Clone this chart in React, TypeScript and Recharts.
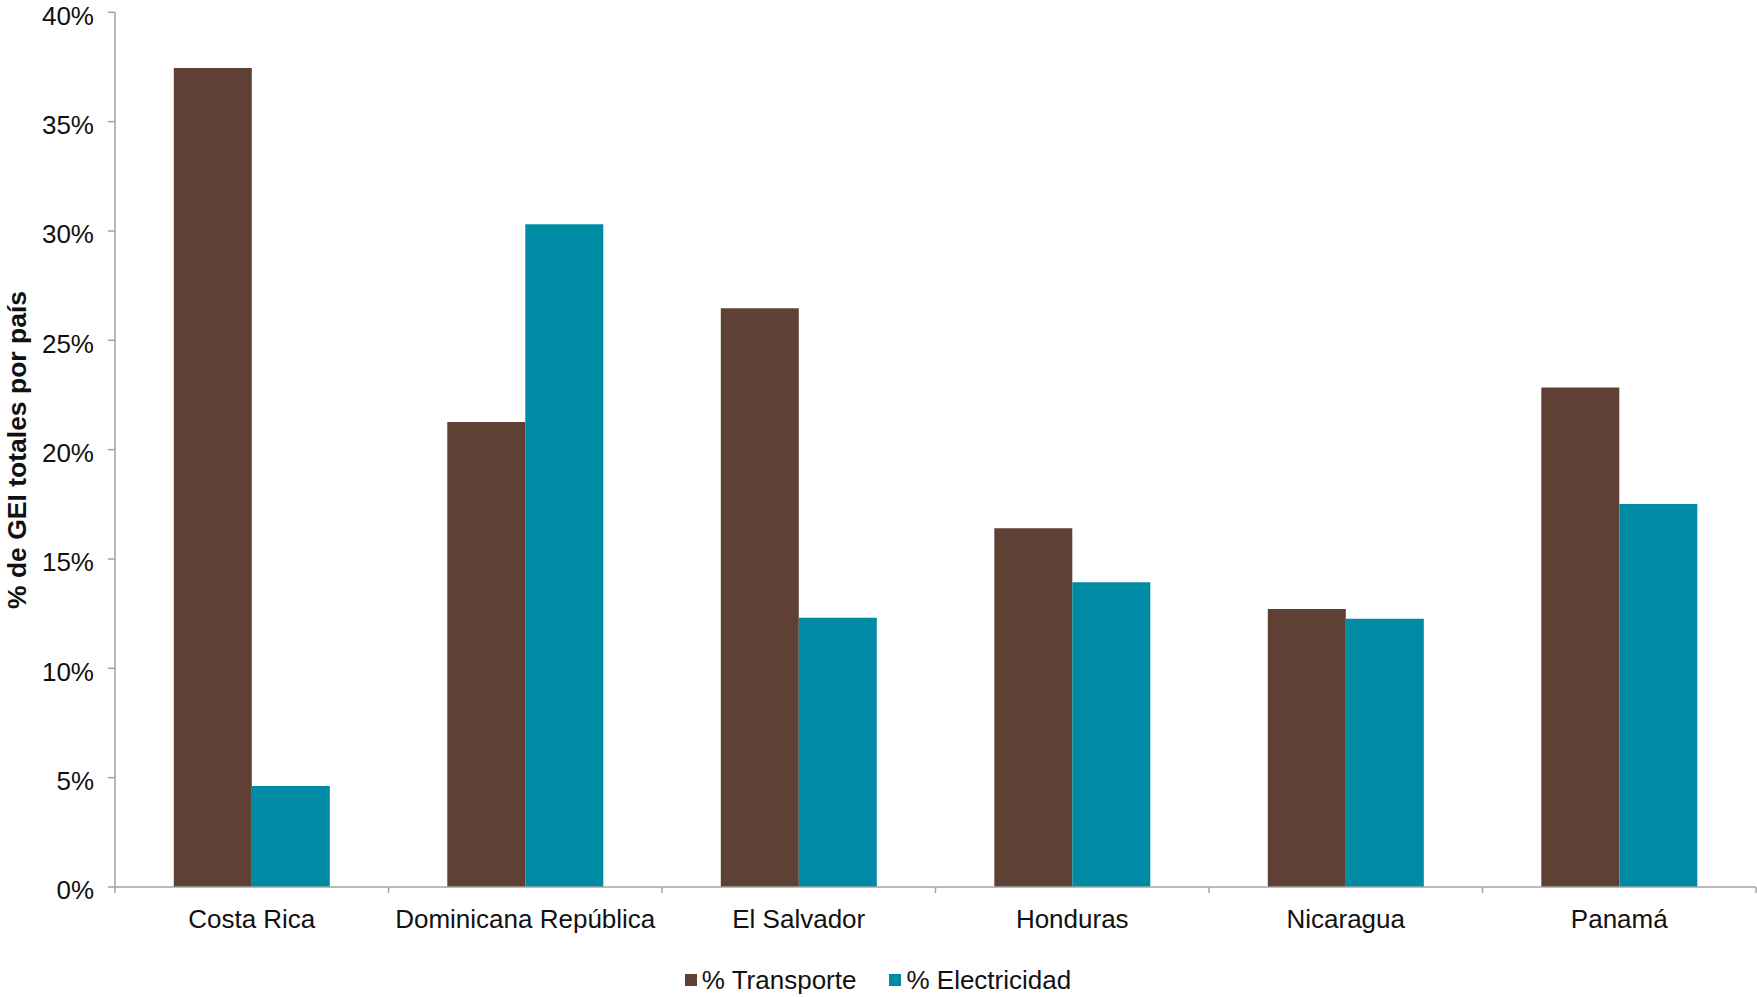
import React from 'react';
import { BarChart, Bar, XAxis, YAxis, Legend } from 'recharts';

const countries = ['Costa Rica', 'Dominicana República', 'El Salvador', 'Honduras', 'Nicaragua', 'Panamá'];
const transporte = [37.45, 21.26, 26.47, 16.41, 12.71, 22.84];
const electricidad = [4.62, 30.31, 12.31, 13.94, 12.27, 17.52];
const yTicks = [0, 5, 10, 15, 20, 25, 30, 35, 40];

const FONT = '"Liberation Sans", Arial, Helvetica, sans-serif';
const AXIS_COLOR = '#a3a3a3';
const BROWN = '#5f4034';
const TEAL = '#008ba5';
const X_TICK_SIZE = 6;
const X_TICK_MARGIN = 17;

const data = countries.map((pais, i) => ({
  pais,
  transporte: transporte[i],
  electricidad: electricidad[i],
}));

// Category labels sit at the band centre, tick marks at the band edges
function CategoryTick(props: any) {
  const { x, y, payload, index } = props;
  const half = payload?.offset ?? 136.75;
  const axisY = y - X_TICK_SIZE - X_TICK_MARGIN;
  return (
    <g>
      <line x1={x - half} x2={x - half} y1={axisY} y2={axisY + X_TICK_SIZE} stroke={AXIS_COLOR} strokeWidth={1.5} />
      {index === countries.length - 1 && (
        <line x1={x + half} x2={x + half} y1={axisY} y2={axisY + X_TICK_SIZE} stroke={AXIS_COLOR} strokeWidth={1.5} />
      )}
      <text x={x} y={y} dy="0.71em" textAnchor="middle" fill="#111" fontSize={26} fontFamily={FONT}>
        {payload.value}
      </text>
    </g>
  );
}

function YTitle() {
  return (
    <text
      x={17}
      y={450}
      transform="rotate(-90 17 450)"
      textAnchor="middle"
      dominantBaseline="central"
      fontSize={26.5}
      fontWeight="bold"
      fontFamily={FONT}
      fill="#111"
    >
      % de GEI totales por país
    </text>
  );
}

const legendItems = [
  { label: '% Transporte', color: BROWN },
  { label: '% Electricidad', color: TEAL },
];

function LegendContent() {
  return (
    <div
      style={{
        display: 'flex',
        justifyContent: 'center',
        alignItems: 'center',
        height: 30,
        gap: 33,
        fontFamily: FONT,
        fontSize: 26,
        color: '#111',
      }}
    >
      {legendItems.map((item) => (
        <div key={item.label} style={{ display: 'flex', alignItems: 'center', gap: 5 }}>
          <span style={{ width: 12, height: 12, background: item.color, display: 'inline-block' }} />
          <span style={{ lineHeight: '30px' }}>{item.label}</span>
        </div>
      ))}
    </div>
  );
}

export default function App() {
  return (
    <div style={{ position: 'absolute', left: 0, top: 0, background: '#fff' }}>
      <BarChart
        width={1757}
        height={997}
        data={data}
        margin={{ top: 12.3, right: 1, left: 0, bottom: 2.5 }}
        barCategoryGap="21.5%"
        barGap={0}
      >
        <XAxis
          dataKey="pais"
          interval={0}
          height={77.5}
          tickSize={X_TICK_SIZE}
          tickMargin={X_TICK_MARGIN}
          tickLine={false}
          axisLine={{ stroke: AXIS_COLOR, strokeWidth: 1.5 }}
          tick={<CategoryTick />}
        />
        <YAxis
          width={115}
          domain={[0, 40]}
          ticks={yTicks}
          interval={0}
          tickFormatter={(v) => `${v}%`}
          tickSize={7}
          tickMargin={14}
          axisLine={{ stroke: AXIS_COLOR, strokeWidth: 1.5 }}
          tickLine={{ stroke: AXIS_COLOR, strokeWidth: 1.5 }}
          tick={{ fill: '#111', fontSize: 26, fontFamily: FONT, dy: 3 }}
          label={<YTitle />}
        />
        <Legend verticalAlign="bottom" align="center" content={<LegendContent />} />
        <Bar dataKey="transporte" name="% Transporte" fill={BROWN} isAnimationActive={false} />
        <Bar dataKey="electricidad" name="% Electricidad" fill={TEAL} isAnimationActive={false} />
      </BarChart>
    </div>
  );
}
